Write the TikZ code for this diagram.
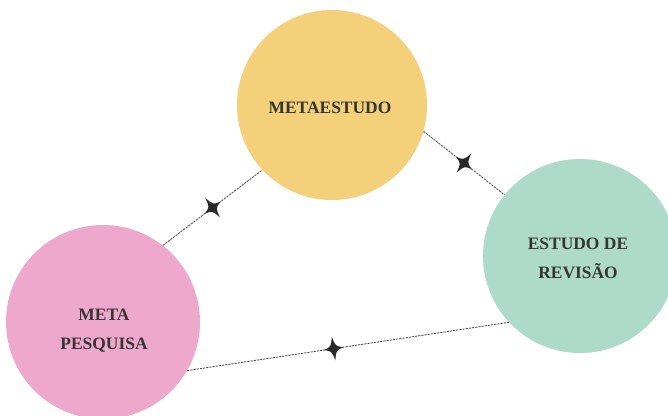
\documentclass[tikz,border=0pt]{standalone}
\usepackage{fontspec}
\setmainfont{Liberation Serif}
\definecolor{yel}{HTML}{F4D07A}
\definecolor{grn}{HTML}{AEDAC9}
\definecolor{pnk}{HTML}{EEA8CB}
\definecolor{txt}{HTML}{353535}
\definecolor{starc}{HTML}{2A2A2A}
\tikzset{
  bubble/.style={circle, inner sep=0pt, draw=none},
  label text/.style={text=txt, font=\bfseries\fontsize{17.5}{29}\selectfont, align=center, inner sep=0pt},
  link/.style={draw=black!70, line width=0.85bp, dash pattern=on 2.2bp off 1bp},
  spark/.pic={\fill[starc] (0,12) .. controls (2.2,2.2) .. (10,0) .. controls (2.2,-2.2) .. (0,-12) .. controls (-2.2,-2.2) .. (-10,0) .. controls (-2.2,2.2) .. cycle;}
}
\begin{document}
\begin{tikzpicture}[x=1bp,y=-1bp]
\useasboundingbox (0,0) rectangle (668,415);
\fill[white] (0,0) rectangle (668,415);
\node[bubble, fill=yel, minimum size=190bp] (y) at (332,105) {};
\node[bubble, fill=grn, minimum size=194bp] (g) at (580,256) {};
\node[bubble, fill=pnk, minimum size=194bp] (p) at (103,322) {};
\node[label text] (yt) at (330,108) {METAESTUDO};
\node[label text] (gt) at (578,258) {ESTUDO DE\\REVIS\~AO};
\node[label text] (pt) at (104,331) {META\\PESQUISA};
\draw[link] (p.52) -- (y.-137) coordinate[pos=0.5] (s1);
\draw[link] (y.-16.5) -- (g.141.6) coordinate[pos=0.5] (s2);
\draw[link] (p.-30.8) -- (g.223.4) coordinate[pos=0.455] (s3);
\pic[rotate=37] at (s1) {spark};
\pic[rotate=-38] at (s2) {spark};
\pic[rotate=8.5] at (s3) {spark};
\end{tikzpicture}
\end{document}
